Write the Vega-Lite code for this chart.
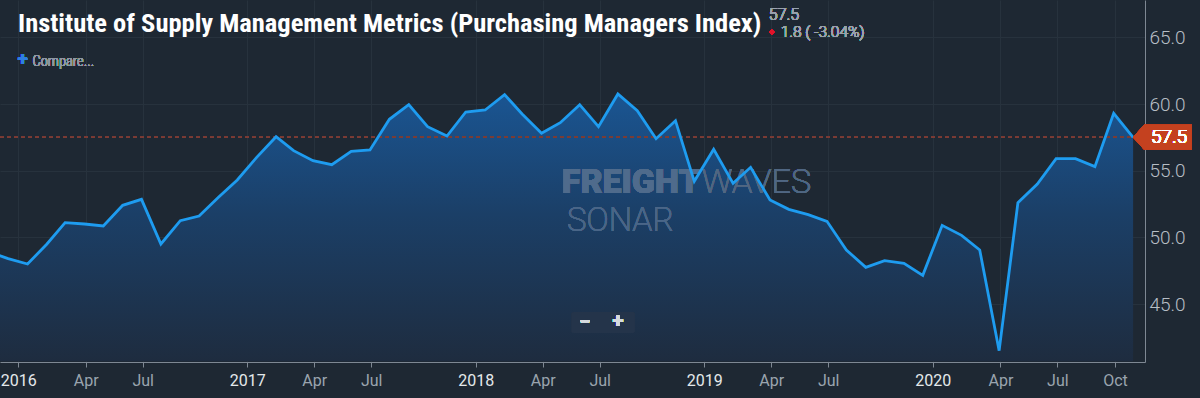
{
  "$schema": "https://vega.github.io/schema/vega-lite/v6.json",
  "width": 1145,
  "height": 362,
  "autosize": {"type": "none"},
  "padding": {"left": 0, "top": 0, "right": 55, "bottom": 36},
  "background": "#1e2833",
  "config": {"view": {"stroke": null}, "font": "Roboto"},
  "title": {
    "text": "Institute of Supply Management Metrics (Purchasing Managers Index)",
    "anchor": "start",
    "frame": "group",
    "orient": "top",
    "offset": 0,
    "dx": 18,
    "dy": 37,
    "font": "Roboto Condensed, DejaVu Sans Condensed, Roboto",
    "fontSize": 26.5,
    "fontWeight": "bold",
    "color": "#ffffff"
  },
  "data": {
    "values": [
      {"date": "2015-11-01", "value": 48.9},
      {"date": "2015-12-01", "value": 48.4},
      {"date": "2016-01-01", "value": 48.0},
      {"date": "2016-02-01", "value": 49.5},
      {"date": "2016-03-01", "value": 51.1},
      {"date": "2016-04-01", "value": 51.0},
      {"date": "2016-05-01", "value": 50.85},
      {"date": "2016-06-01", "value": 52.4},
      {"date": "2016-07-01", "value": 52.85},
      {"date": "2016-08-01", "value": 49.5},
      {"date": "2016-09-01", "value": 51.25},
      {"date": "2016-10-01", "value": 51.6},
      {"date": "2016-11-01", "value": 53.0},
      {"date": "2016-12-01", "value": 54.3},
      {"date": "2017-01-01", "value": 56.0},
      {"date": "2017-02-01", "value": 57.55},
      {"date": "2017-03-01", "value": 56.5},
      {"date": "2017-04-01", "value": 55.75},
      {"date": "2017-05-01", "value": 55.45},
      {"date": "2017-06-01", "value": 56.45},
      {"date": "2017-07-01", "value": 56.55},
      {"date": "2017-08-01", "value": 58.85},
      {"date": "2017-09-01", "value": 59.95},
      {"date": "2017-10-01", "value": 58.3},
      {"date": "2017-11-01", "value": 57.6},
      {"date": "2017-12-01", "value": 59.4},
      {"date": "2018-01-01", "value": 59.55},
      {"date": "2018-02-01", "value": 60.7},
      {"date": "2018-03-01", "value": 59.25},
      {"date": "2018-04-01", "value": 57.8},
      {"date": "2018-05-01", "value": 58.6},
      {"date": "2018-06-01", "value": 59.95},
      {"date": "2018-07-01", "value": 58.3},
      {"date": "2018-08-01", "value": 60.75},
      {"date": "2018-09-01", "value": 59.5},
      {"date": "2018-10-01", "value": 57.4},
      {"date": "2018-11-01", "value": 58.75},
      {"date": "2018-12-01", "value": 54.2},
      {"date": "2019-01-01", "value": 56.6},
      {"date": "2019-02-01", "value": 54.05},
      {"date": "2019-03-01", "value": 55.25},
      {"date": "2019-04-01", "value": 52.8},
      {"date": "2019-05-01", "value": 52.1},
      {"date": "2019-06-01", "value": 51.7},
      {"date": "2019-07-01", "value": 51.2},
      {"date": "2019-08-01", "value": 49.05},
      {"date": "2019-09-01", "value": 47.75},
      {"date": "2019-10-01", "value": 48.25},
      {"date": "2019-11-01", "value": 48.05},
      {"date": "2019-12-01", "value": 47.15},
      {"date": "2020-01-01", "value": 50.9},
      {"date": "2020-02-01", "value": 50.15},
      {"date": "2020-03-01", "value": 49.05},
      {"date": "2020-04-01", "value": 41.5},
      {"date": "2020-05-01", "value": 52.6},
      {"date": "2020-06-01", "value": 54.0},
      {"date": "2020-07-01", "value": 55.9},
      {"date": "2020-08-01", "value": 55.9},
      {"date": "2020-09-01", "value": 55.3},
      {"date": "2020-10-01", "value": 59.3},
      {"date": "2020-11-01", "value": 57.5}
    ]
  },
  "layer": [
    {
      "mark": {
        "type": "area",
        "color": {
          "gradient": "linear",
          "x1": 0, "y1": 0, "x2": 0, "y2": 1,
          "stops": [
            {"offset": 0, "color": "#1a5592"},
            {"offset": 0.45, "color": "#1b3f67"},
            {"offset": 1, "color": "#1e2c3f"}
          ]
        }
      },
      "encoding": {
        "x": {
          "field": "date",
          "type": "temporal",
          "scale": {
            "type": "utc",
            "domain": [
              {"year": 2015, "month": 11, "date": 18, "utc": true},
              {"year": 2020, "month": 11, "date": 20, "utc": true}
            ]
          },
          "axis": {
            "title": null,
            "orient": "bottom",
            "values": [
              {"year": 2015, "month": 12, "date": 17, "utc": true},
              {"year": 2016, "month": 4, "date": 3, "utc": true},
              {"year": 2016, "month": 7, "date": 3, "utc": true},
              {"year": 2016, "month": 12, "date": 17, "utc": true},
              {"year": 2017, "month": 4, "date": 3, "utc": true},
              {"year": 2017, "month": 7, "date": 3, "utc": true},
              {"year": 2017, "month": 12, "date": 17, "utc": true},
              {"year": 2018, "month": 4, "date": 3, "utc": true},
              {"year": 2018, "month": 7, "date": 3, "utc": true},
              {"year": 2018, "month": 12, "date": 17, "utc": true},
              {"year": 2019, "month": 4, "date": 3, "utc": true},
              {"year": 2019, "month": 7, "date": 3, "utc": true},
              {"year": 2019, "month": 12, "date": 17, "utc": true},
              {"year": 2020, "month": 4, "date": 3, "utc": true},
              {"year": 2020, "month": 7, "date": 3, "utc": true},
              {"year": 2020, "month": 10, "date": 3, "utc": true}
            ],
            "labelExpr": "utcmonth(datum.value) == 11 ? '' + (utcyear(datum.value) + 1) : utcFormat(datum.value, '%b')",
            "labelColor": {"condition": {"test": "utcmonth(datum.value) == 11", "value": "#e4e8eb"}, "value": "#9aa4ae"},
            "labelFontSize": 16,
            "labelFont": "Roboto",
            "labelPadding": 5,
            "labelFlush": false,
            "labelOverlap": false,
            "tickColor": "#7e8893",
            "tickSize": 5,
            "domainColor": "#7e8893",
            "grid": true,
            "gridColor": "#27323d"
          }
        },
        "y": {
          "field": "value",
          "type": "quantitative",
          "scale": {"domain": [40.65, 67.8], "nice": false, "zero": false},
          "axis": {
            "title": null,
            "orient": "right",
            "values": [45, 50, 55, 60, 65],
            "format": ".1f",
            "ticks": false,
            "labelFontSize": 19,
            "labelFont": "Roboto",
            "labelFontWeight": 300,
            "labelColor": "#b7bec5",
            "labelPadding": 4,
            "domainColor": "#7e8893",
            "grid": true,
            "gridColor": "#27323d"
          }
        },
        "y2": {"datum": 40.7}
      }
    },
    {
      "mark": {"type": "rule", "color": "#7b3c35", "strokeDash": [4, 3], "strokeWidth": 1.2},
      "encoding": {"y": {"datum": 57.5}}
    },
    {
      "mark": {"type": "text", "text": "FREIGHT", "color": "#4f6b8c", "opacity": 1, "fontSize": 34, "fontWeight": 900, "align": "right", "baseline": "alphabetic"},
      "encoding": {
        "x": {"datum": {"year": 2018, "month": 12, "date": 10, "utc": true}, "type": "temporal"},
        "y": {"datum": 53.33}
      }
    },
    {
      "mark": {"type": "text", "text": "WAVES", "color": "#506783", "opacity": 1, "fontSize": 34, "fontWeight": 200, "align": "left", "baseline": "alphabetic"},
      "encoding": {
        "x": {"datum": {"year": 2018, "month": 12, "date": 13, "utc": true}, "type": "temporal"},
        "y": {"datum": 53.33}
      }
    },
    {
      "mark": {"type": "text", "text": "SONAR", "color": "#4a6688", "opacity": 1, "fontSize": 33, "fontWeight": 200, "align": "center", "baseline": "alphabetic"},
      "encoding": {
        "x": {"datum": {"year": 2018, "month": 8, "date": 5, "utc": true}, "type": "temporal"},
        "y": {"datum": 50.48}
      }
    },
    {
      "mark": {"type": "line", "color": "#1e9cf0", "strokeWidth": 2.8, "strokeJoin": "miter"},
      "encoding": {
        "x": {"field": "date", "type": "temporal"},
        "y": {"field": "value", "type": "quantitative"}
      }
    },
    {
      "mark": {
        "type": "rect",
        "color": "#24344a",
        "cornerRadius": 2
      },
      "encoding": {
        "x": {"datum": {"year": 2018, "month": 5, "date": 19, "utc": true}, "type": "temporal"},
        "x2": {"datum": {"year": 2018, "month": 8, "date": 28, "utc": true}},
        "y": {"datum": 44.4},
        "y2": {"datum": 42.82}
      }
    },
    {
      "mark": {"type": "text", "text": "−", "color": "#d5dade", "fontSize": 20, "fontWeight": "bold", "align": "center", "baseline": "middle"},
      "encoding": {
        "x": {"datum": {"year": 2018, "month": 6, "date": 9, "utc": true}, "type": "temporal"},
        "y": {"datum": 43.65}
      }
    },
    {
      "mark": {"type": "text", "text": "+", "color": "#d5dade", "fontSize": 20, "fontWeight": "bold", "align": "center", "baseline": "middle"},
      "encoding": {
        "x": {"datum": {"year": 2018, "month": 8, "date": 1, "utc": true}, "type": "temporal"},
        "y": {"datum": 43.65}
      }
    },
    {
      "mark": {"type": "text", "text": "+", "color": "#2f7fe0", "fontSize": 18, "fontWeight": "bold", "align": "center", "baseline": "middle"},
      "encoding": {
        "x": {"datum": {"year": 2015, "month": 12, "date": 24, "utc": true}, "type": "temporal"},
        "y": {"datum": 63.3}
      }
    },
    {
      "mark": {"type": "text", "text": "Compare...", "color": "#8f98a2", "font": "Roboto Condensed, Roboto", "fontSize": 14.5, "fontWeight": 300, "align": "left", "baseline": "alphabetic"},
      "encoding": {
        "x": {"datum": {"year": 2016, "month": 1, "date": 9, "utc": true}, "type": "temporal"},
        "y": {"datum": 62.85}
      }
    },
    {
      "mark": {"type": "text", "text": "57.5", "color": "#9aa3ad", "fontSize": 16, "fontWeight": 300, "align": "left", "baseline": "alphabetic"},
      "encoding": {
        "x": {"datum": {"year": 2019, "month": 3, "date": 30, "utc": true}, "type": "temporal"},
        "y": {"datum": 66.3}
      }
    },
    {
      "mark": {"type": "point", "shape": "diamond", "filled": true, "color": "#e0142a", "opacity": 1, "size": 30},
      "encoding": {
        "x": {"datum": {"year": 2019, "month": 4, "date": 4, "utc": true}, "type": "temporal"},
        "y": {"datum": 65.4}
      }
    },
    {
      "mark": {"type": "text", "text": "1.8 ( -3.04%)", "color": "#9aa3ad", "fontSize": 15.5, "fontWeight": 300, "align": "left", "baseline": "alphabetic"},
      "encoding": {
        "x": {"datum": {"year": 2019, "month": 4, "date": 18, "utc": true}, "type": "temporal"},
        "y": {"datum": 65.0}
      }
    },
    {
      "mark": {"type": "point", "shape": "M0,0L0.9,-1L4.66,-1L4.66,1L0.9,1Z", "filled": true, "color": "#c4411f", "opacity": 1, "size": 625},
      "encoding": {
        "x": {"datum": {"year": 2020, "month": 11, "date": 1, "utc": true}, "type": "temporal"},
        "y": {"datum": 57.5}
      }
    },
    {
      "mark": {"type": "text", "text": "57.5", "color": "#ffffff", "fontSize": 19, "fontWeight": 300, "align": "center", "baseline": "middle", "dx": 36},
      "encoding": {
        "x": {"datum": {"year": 2020, "month": 11, "date": 1, "utc": true}, "type": "temporal"},
        "y": {"datum": 57.5}
      }
    }
  ]
}
